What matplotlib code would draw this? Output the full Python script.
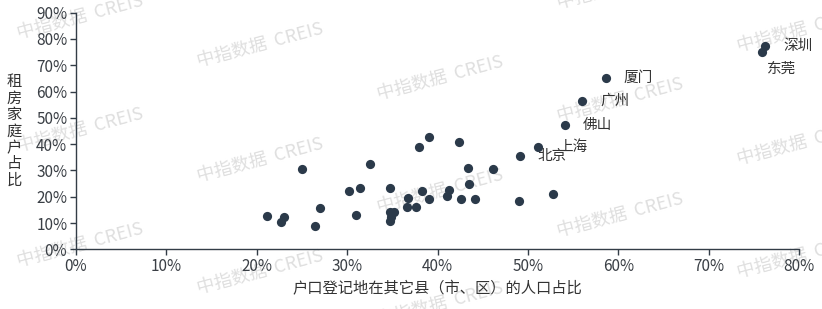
import matplotlib
matplotlib.use("Agg")
import matplotlib.pyplot as plt
from matplotlib.ticker import FuncFormatter, MultipleLocator

plt.rcParams['font.family'] = ['Noto Sans CJK SC', 'DejaVu Sans']

# x: share of population registered in another county (%), y: renting household share (%)
x_vals = [21.1, 23.0, 22.7, 25.0, 27.0, 26.5, 30.2, 31.4, 31.0, 32.5,
          34.8, 34.8, 35.2, 34.8, 34.9, 36.7, 36.6, 37.6, 38.3, 39.1,
          41.3, 41.0, 38.0, 39.1, 42.4, 42.6, 43.4, 43.5, 44.1, 46.1,
          49.0, 52.8]
y_vals = [12.7, 12.4, 10.5, 30.5, 15.6, 8.9, 22.2, 23.4, 13.0, 32.4,
          23.4, 14.3, 14.3, 10.6, 12.4, 19.4, 16.0, 16.2, 22.3, 19.1,
          22.5, 20.3, 39.0, 42.6, 40.9, 19.0, 30.8, 24.7, 19.0, 30.4,
          18.2, 21.0]

city_names = ['北京', '上海', '佛山', '广州', '厦门', '深圳', '东莞']
city_x = [49.1, 51.1, 54.05, 56.0, 58.6, 76.25, 75.9]
city_y = [35.6, 39.0, 47.3, 56.5, 65.3, 77.3, 74.9]

x_label = '户口登记地在其它县（市、区）的人口占比'
y_label = '租房家庭户占比'
watermark = '中指数据  CREIS'

W, H = 822, 309
fig = plt.figure(figsize=(W / 100, H / 100), dpi=100)

# watermarks (behind everything)
cols = [80, 260, 440, 620, 800]
ys = {80: [17, 130, 245], 260: [45, 160, 272], 440: [78, 191, 304],
      620: [-13, 100, 215], 800: [30, 143, 256]}
for cx in cols:
    for cy in ys[cx]:
        fig.text(cx / W, 1 - cy / H, watermark, ha='center', va='center',
                 rotation=15, fontsize=13, color='#d4d4d4', alpha=0.75,
                 fontweight='medium', zorder=-5)

ax = fig.add_axes([75.7 / W, 1 - 249.3 / H, (799.3 - 75.7) / W, (249.3 - 12.7) / H])
ax.set_facecolor('none')

dot = '#2b3a4a'
ax.scatter(x_vals, y_vals, s=44, color=dot, zorder=3, linewidths=0)
ax.scatter(city_x, city_y, s=44, color=dot, zorder=3, linewidths=0)

# city labels (offsets in points)
offsets = {'北京': (13, 0), '上海': (14.5, 0), '佛山': (13, 0), '广州': (13, 0),
           '厦门': (13, 0), '深圳': (13, 0), '东莞': (3.5, -12)}
for n, xv, yv in zip(city_names, city_x, city_y):
    dx, dy = offsets[n]
    ax.annotate(n, (xv, yv), xytext=(dx, dy), textcoords='offset points',
                ha='left', va='center', fontsize=10.5, color='#333333', zorder=4)

ax.set_xlim(0, 80)
ax.set_ylim(0, 90)
ax.xaxis.set_major_locator(MultipleLocator(10))
ax.yaxis.set_major_locator(MultipleLocator(10))
fmt = FuncFormatter(lambda v, p: f'{v:.0f}%')
ax.xaxis.set_major_formatter(fmt)
ax.yaxis.set_major_formatter(fmt)

for s in ['top', 'right']:
    ax.spines[s].set_visible(False)
for s in ['left', 'bottom']:
    ax.spines[s].set_color('#333d47')
    ax.spines[s].set_linewidth(1.0)
ax.tick_params(axis='both', colors='#333d47', length=4, width=1,
               labelsize=11, labelcolor='#3a3f45', pad=2)

ax.set_xlabel(x_label, fontsize=11, color='#333333', labelpad=4)
fig.text(14 / W, 1 - 131 / H, '\n'.join(y_label), ha='center', va='center',
         fontsize=11, color='#333333', linespacing=0.95)

fig.savefig('out.png', dpi=100)
